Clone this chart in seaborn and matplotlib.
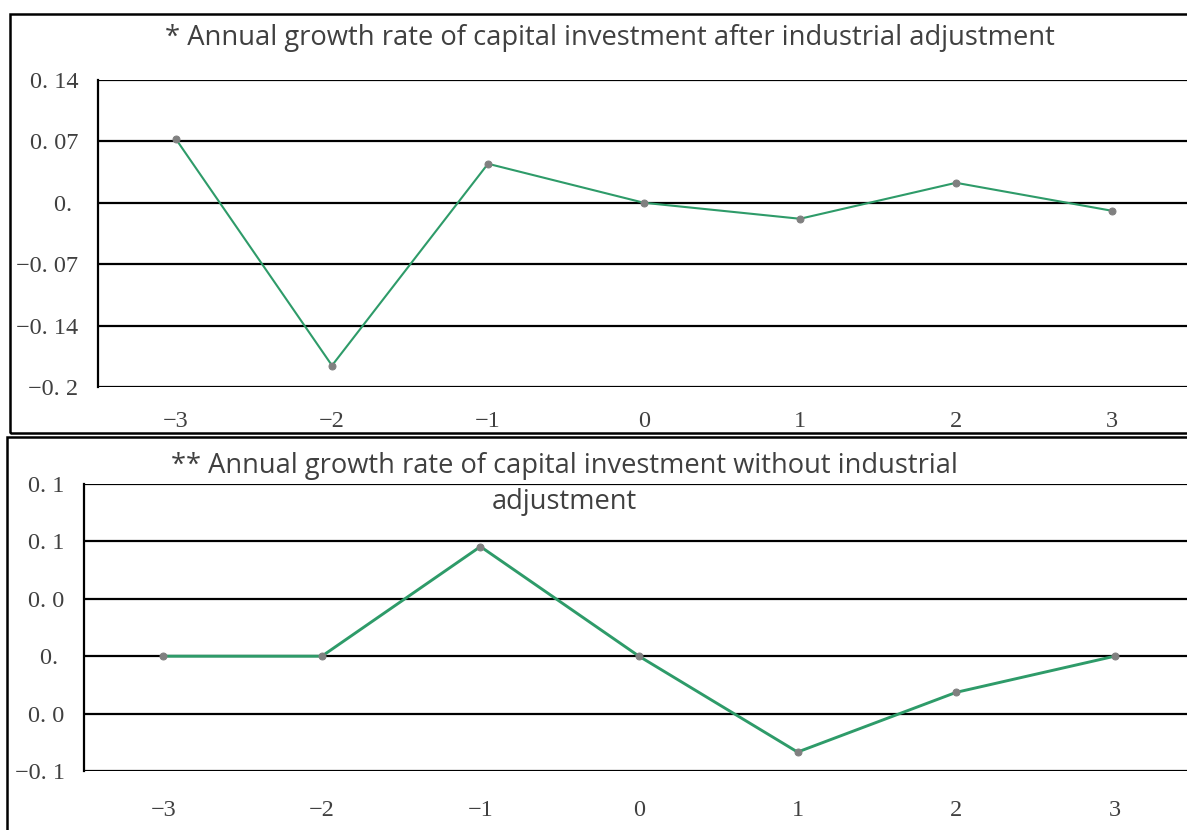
import matplotlib
matplotlib.use("Agg")
import matplotlib.pyplot as plt
from matplotlib.patches import Rectangle
import seaborn as sns
import pandas as pd

# Event-time axis (years relative to the adjustment)
years = [-3, -2, -1, 0, 1, 2, 3]

# Annual growth rate of capital investment
growth_after = [0.0725, -0.1855, 0.0445, 0.0, -0.0182, 0.0228, -0.0091]
growth_without = [0.0, 0.0, 0.0955, 0.0, -0.0835, -0.0315, 0.0]

# Axis ticks and their printed labels
top_ticks = [-0.21, -0.14, -0.07, 0.0, 0.07, 0.14]
top_tick_labels = ["\u22120. 2", "\u22120. 14", "\u22120. 07", "0. ", "0. 07", "0. 14"]
bottom_ticks = [-0.10, -0.05, 0.0, 0.05, 0.10, 0.15]
bottom_tick_labels = ["\u22120. 1", "0. 0", "0. ", "0. 0", "0. 1", "0. 1"]

top_title = "* Annual growth rate of capital investment after industrial adjustment"
bottom_title = "** Annual growth rate of capital investment without industrial\nadjustment"

sns.set_theme(style="white")
plt.rcParams["font.family"] = ["Open Sans", "DejaVu Sans"]

W, H = 1187, 830
fig = plt.figure(figsize=(W / 100, H / 100), dpi=100)
fig.patch.set_facecolor("white")

LINE = "#2e9b69"
MARK = "#808080"
TXT = "#404040"
TICKFONT = ["Liberation Serif", "DejaVu Serif"]


def px_rect(x0, y0, x1, y1):
    return [x0 / W, 1 - y1 / H, (x1 - x0) / W, (y1 - y0) / H]


# Outer frames around each chart
for (x0, y0, x1, y1) in [(10, 14, 1230, 433), (7, 437, 1230, 870)]:
    fig.patches.append(Rectangle((x0 / W, 1 - y1 / H), (x1 - x0) / W, (y1 - y0) / H,
                                 transform=fig.transFigure, fill=False,
                                 edgecolor="black", linewidth=1.8, zorder=0))


def draw_panel(rect, values, ticks, labels, lw, xpad):
    ax = fig.add_axes(rect)
    ax.set_facecolor("none")
    df = pd.DataFrame({"year": years, "growth": values})
    sns.lineplot(data=df, x="year", y="growth", ax=ax, color=LINE, linewidth=lw,
                 marker="o", markersize=5, markerfacecolor=MARK,
                 markeredgecolor=MARK, zorder=3)
    ax.set_xlim(-3.5, 3.5)
    ax.set_ylim(ticks[0], ticks[-1])
    ax.set_yticks(ticks)
    ax.set_yticklabels(labels)
    ax.set_xticks(years)
    ax.set_xticklabels([f"\u2212{abs(v)}" if v < 0 else str(v) for v in years])
    for t in ticks:
        ax.axhline(t, color="black", linewidth=1.6, zorder=1)
    for s in ["top", "right", "bottom"]:
        ax.spines[s].set_visible(False)
    ax.spines["left"].set_color("black")
    ax.spines["left"].set_linewidth(1.6)
    ax.tick_params(axis="both", length=0, labelsize=17.5, colors=TXT)
    ax.tick_params(axis="y", pad=14)
    ax.tick_params(axis="x", pad=xpad)
    for lab in ax.get_xticklabels() + ax.get_yticklabels():
        lab.set_family(TICKFONT)
    ax.set_xlabel("")
    ax.set_ylabel("")
    return ax


draw_panel(px_rect(98, 80, 1190, 387), growth_after, top_ticks, top_tick_labels, 1.5, 17)
draw_panel(px_rect(84, 484, 1194, 771), growth_without, bottom_ticks, bottom_tick_labels, 2.1, 21)

fig.text(610 / W, 1 - 38 / H, top_title, ha="center", va="center",
         fontsize=19.7, color=TXT)
fig.text(564 / W, 1 - 484 / H, bottom_title, ha="center", va="center",
         fontsize=19.6, color=TXT, linespacing=1.4)

fig.savefig("out.png", dpi=100)
